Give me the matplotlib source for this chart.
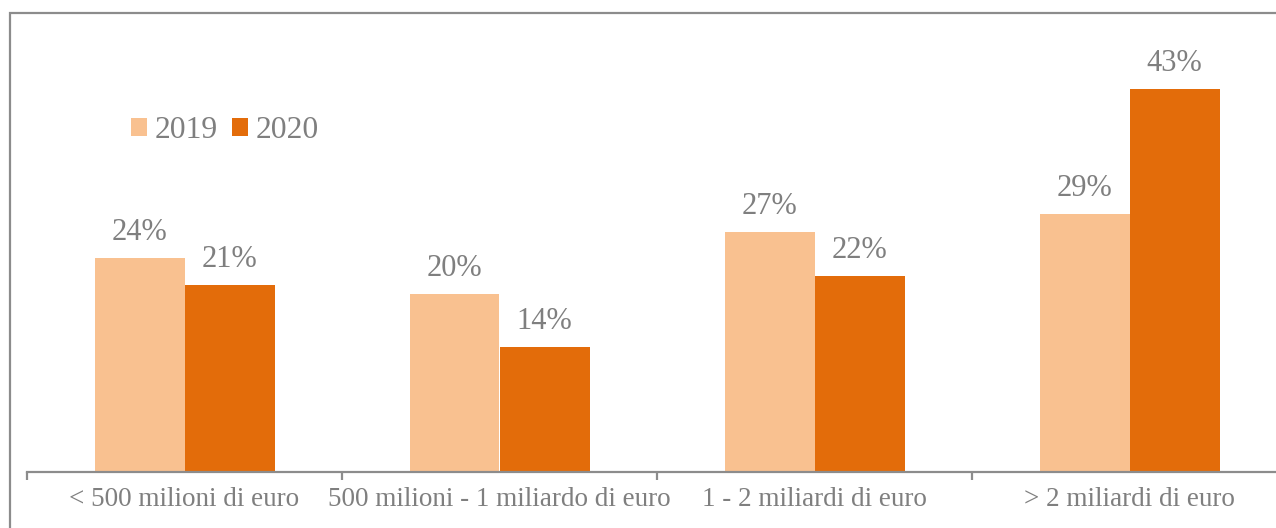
import numpy as np
import matplotlib.pyplot as plt
from matplotlib.patches import Rectangle

# Data
categories = ["< 500 milioni di euro", "500 milioni - 1 miliardo di euro",
              "1 - 2 miliardi di euro", "> 2 miliardi di euro"]
years = ["2019", "2020"]
values_2019 = [24, 20, 27, 29]
values_2020 = [21, 14, 22, 43]

c_2019 = "#F9C190"
c_2020 = "#E36C0A"
gray = "#7F7F7F"

plt.rcParams['font.family'] = ['Liberation Serif', 'DejaVu Serif']

W, H = 1276, 528
fig = plt.figure(figsize=(W / 100, H / 100), dpi=100)

# axes geometry in pixels
ax_left, ax_bottom, ax_top = 27, 56, 515
ax = fig.add_axes([ax_left / W, ax_bottom / H, (W - ax_left) / W, (ax_top - ax_bottom) / H])
step = 315.0
px_per_pct = 8.9

x = np.arange(len(categories))
bw = 90 / step
b1 = ax.bar(x - bw / 2, values_2019, bw, color=c_2019, label=years[0])
b2 = ax.bar(x + bw / 2, values_2020, bw, color=c_2020, label=years[1])

for bars in (b1, b2):
    for rect in bars:
        ax.annotate(f"{rect.get_height():.0f}%",
                    (rect.get_x() + rect.get_width() / 2, rect.get_height()),
                    xytext=(0, 8), textcoords="offset points",
                    ha="center", va="bottom", fontsize=22, color=gray)

for s in ("top", "right", "left"):
    ax.spines[s].set_visible(False)
ax.spines["bottom"].set_color("#8C8C8C")
ax.spines["bottom"].set_linewidth(1.6)
ax.set_yticks([])

# category labels centred, tick marks between categories
ax.set_xticks(x)
ax.set_xticklabels(categories, fontsize=19.5, color=gray)
ax.tick_params(axis="x", length=0, pad=11)
ax.set_xticks(np.arange(len(categories)) - 0.5, minor=True)
ax.tick_params(axis="x", which="minor", length=6, width=1.6, color="#8C8C8C")

# limits last so tick setting cannot widen them
ax.set_xlim(-0.5, -0.5 + (W - ax_left) / step)
ax.set_ylim(0, (ax_top - ax_bottom) / px_per_pct)

ax.legend(loc="center left", bbox_to_anchor=(131 / W, 1 - 131 / H),
          bbox_transform=fig.transFigure, ncol=2, frameon=False,
          fontsize=22.8, handlelength=0.5, handleheight=0.5,
          handletextpad=0.25, columnspacing=0.45, labelcolor=gray,
          borderaxespad=0, borderpad=0)

# outer border of the chart area
fig.patches.append(Rectangle((10 / W, -0.1), 1.1, (H - 13) / H + 0.1,
                             transform=fig.transFigure, fill=False,
                             edgecolor="#8C8C8C", linewidth=1.6))

fig.savefig("out.png", dpi=100)
